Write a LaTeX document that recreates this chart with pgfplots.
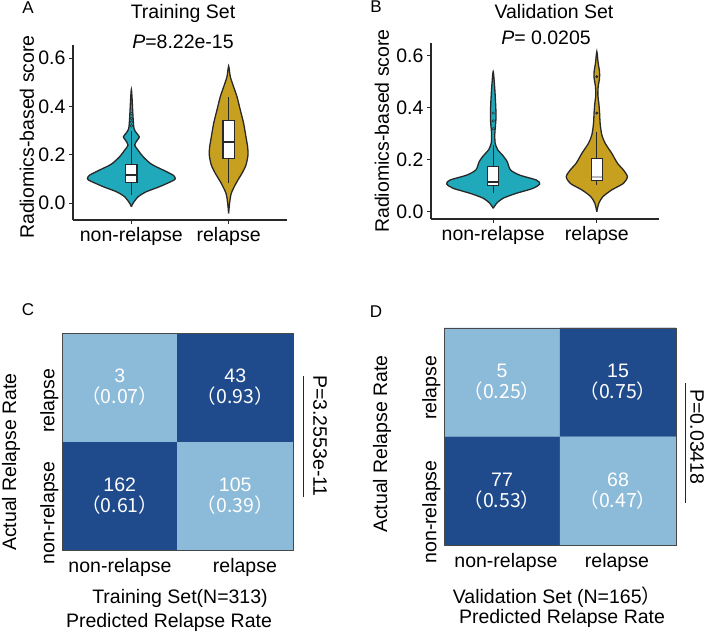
\documentclass[border=0pt]{standalone}
\usepackage{fontspec}
\setmainfont{Liberation Sans}
\newfontfamily\cjk{Noto Sans CJK SC}
\usepackage{pgfplots}
\pgfplotsset{compat=1.18}

\definecolor{vteal}{RGB}{32,169,186}
\definecolor{vgold}{RGB}{200,160,32}
\definecolor{ink}{RGB}{40,40,40}
\newcommand{\lab}{\fontsize{19.5}{21}\selectfont}
\newcommand{\panelfont}{\fontsize{17}{19}\selectfont}

\tikzset{cell/.style={text=white, align=center, font=\lab, inner sep=0pt}}
\pgfplotsset{
  violin/.style={
    scale only axis, clip=false,
    axis x line*=bottom, axis y line*=left,
    axis line style={-, ink, line width=1.6pt},
    xmin=0.4, xmax=2.6,
    xtick={1,2}, xticklabels={non-relapse,relapse},
    ytick={0,0.2,0.4,0.6}, yticklabels={0.0,0.2,0.4,0.6},
    tick align=outside, major tick length=4pt,
    tick style={ink, line width=1pt},
    tick label style={font=\lab},
    /pgf/number format/assume math mode=true,
  },
  vshape/.style={draw=ink, line width=1.3pt, smooth, tension=0.45},
  whisk/.style={ink, line width=1.2pt},
  box/.style={draw=ink, fill=white, line width=1.2pt},
  med/.style={ink, line width=2.2pt},
  cmat/.style={
    scale only axis, enlargelimits=false, axis on top,
    xmin=0, xmax=2, ymin=0, ymax=2,
    axis line style={ink!85, line width=0.8pt},
    major tick length=0pt,
    tick label style={font=\lab},
    xticklabel style={yshift=-5pt},
    yticklabel style={rotate=90, anchor=south, xshift=-5pt},
    colormap={cmblue}{rgb255=(140,186,217) rgb255=(31,75,140)},
    point meta min=0, point meta max=1,
  },
}

\begin{document}
\begin{tikzpicture}[x=1pt, y=1pt]
\path[use as bounding box] (0,0) rectangle (708,631);

% ---- A: training violin
\begin{axis}[violin, at={(73pt,411pt)}, width=214pt, height=175pt, ymin=-0.070, ymax=0.654]
\addplot[vshape, fill=vteal] coordinates {
 (1,-0.015)(1.017,-0.001)(1.069,0.026)(1.154,0.047)(1.291,0.068)(1.439,0.095)(1.449,0.105)(1.428,0.116)(1.325,0.137)(1.206,0.161)(1.120,0.192)(1.069,0.219)(1.034,0.240)(1.062,0.261)(1.082,0.274)(1.051,0.291)(1.027,0.309)(1.017,0.357)(1,0.470)
 (0.983,0.357)(0.973,0.309)(0.949,0.291)(0.918,0.274)(0.938,0.261)(0.966,0.240)(0.931,0.219)(0.880,0.192)(0.794,0.161)(0.675,0.137)(0.572,0.116)(0.551,0.105)(0.561,0.095)(0.709,0.068)(0.846,0.047)(0.931,0.026)(0.983,-0.001)(1,-0.015)};
\addplot[vshape, fill=vgold] coordinates {
 (2,-0.043)(2.010,0.0)(2.027,0.040)(2.075,0.081)(2.137,0.123)(2.178,0.157)(2.199,0.199)(2.195,0.233)(2.178,0.274)(2.154,0.330)(2.120,0.385)(2.086,0.440)(2.051,0.481)(2.017,0.523)(2,0.567)
 (1.983,0.523)(1.949,0.481)(1.914,0.440)(1.880,0.385)(1.846,0.330)(1.822,0.274)(1.805,0.233)(1.801,0.199)(1.822,0.157)(1.863,0.123)(1.925,0.081)(1.973,0.040)(1.990,0.0)(2,-0.043)};
% box plots: whiskers, boxes (quartiles), medians
\addplot[whisk] coordinates {(1,0.033)(1,0.30)};
\addplot[box] coordinates {(0.943,0.084)(1.057,0.084)(1.057,0.160)(0.943,0.160)} -- cycle;
\addplot[med] coordinates {(0.943,0.116)(1.057,0.116)};
\addplot[whisk] coordinates {(2,0.081)(2,0.44)};
\addplot[box] coordinates {(1.943,0.185)(2.057,0.185)(2.057,0.343)(1.943,0.343)} -- cycle;
\addplot[med] coordinates {(1.943,0.254)(2.057,0.254)};
\addplot[only marks, mark=*, mark size=1.4pt, mark options={fill=vteal, draw=ink, line width=0.5pt}] coordinates {(1,0.32)(1,0.335)(1,0.35)(1,0.37)};
\end{axis}

% ---- B: validation violin
\begin{axis}[violin, at={(431pt,412pt)}, width=228pt, height=176pt, ymin=-0.028, ymax=0.650]
\addplot[vshape, fill=vteal] coordinates {
 (1,0.013)(1.032,0.032)(1.096,0.052)(1.224,0.071)(1.385,0.090)(1.449,0.107)(1.417,0.122)(1.256,0.141)(1.167,0.161)(1.135,0.193)(1.090,0.218)(1.045,0.238)(1.019,0.264)(1.016,0.302)(1.026,0.353)(1.026,0.392)(1.016,0.469)(1,0.540)
 (0.984,0.469)(0.974,0.392)(0.974,0.353)(0.984,0.302)(0.981,0.264)(0.955,0.238)(0.910,0.218)(0.865,0.193)(0.833,0.161)(0.744,0.141)(0.583,0.122)(0.551,0.107)(0.615,0.090)(0.776,0.071)(0.904,0.052)(0.968,0.032)(1,0.013)};
\addplot[vshape, fill=vgold] coordinates {
 (2,0.0)(2.019,0.032)(2.058,0.058)(2.144,0.084)(2.256,0.109)(2.295,0.135)(2.256,0.161)(2.199,0.187)(2.144,0.225)(2.080,0.264)(2.048,0.296)(2.032,0.340)(2.026,0.385)(2.019,0.418)(2.010,0.450)(2.013,0.482)(2.026,0.514)(2.026,0.540)(2.013,0.572)(2,0.617)
 (1.987,0.572)(1.974,0.540)(1.974,0.514)(1.987,0.482)(1.990,0.450)(1.981,0.418)(1.974,0.385)(1.968,0.340)(1.952,0.296)(1.920,0.264)(1.856,0.225)(1.801,0.187)(1.744,0.161)(1.705,0.135)(1.744,0.109)(1.856,0.084)(1.942,0.058)(1.981,0.032)(2,0.0)};
\addplot[whisk] coordinates {(1,0.073)(1,0.256)};
\addplot[box] coordinates {(0.948,0.102)(1.052,0.102)(1.052,0.175)(0.948,0.175)} -- cycle;
\addplot[med, line width=1.4pt] coordinates {(0.948,0.115)(1.052,0.115)};
\addplot[whisk] coordinates {(2,0.102)(2,0.306)};
\addplot[box] coordinates {(1.947,0.121)(2.053,0.121)(2.053,0.205)(1.947,0.205)} -- cycle;
\addplot[med, line width=1.4pt, gray!55] coordinates {(1.950,0.134)(2.050,0.134)};
\addplot[only marks, mark=*, mark size=1.3pt, mark options={fill=vteal, draw=ink, line width=0.4pt}] coordinates {(1,0.32)(1,0.35)(1,0.38)};
\addplot[only marks, mark=*, mark size=1.3pt, mark options={fill=ink, draw=ink}] coordinates {(2,0.38)(2,0.52)};
\end{axis}

% ---- C: training confusion matrix
\begin{axis}[cmat, at={(62pt,81pt)}, width=231pt, height=217pt,
  xtick={0.502,1.584}, xticklabels={non-relapse,relapse},
  ytick={0.387,1.421}, yticklabels={non-relapse,relapse}]
\addplot[matrix plot*, mesh/cols=2, mesh/rows=2, point meta=explicit]
  table[meta=c, row sep=\\] {x y c\\ 0.5 0.5 1\\ 1.5 0.5 0\\ 0.5 1.5 0\\ 1.5 1.5 1\\};
\node[cell] at (axis cs:0.5,1.5) {3\\\cjk{（}0.07\cjk{）}};
\node[cell] at (axis cs:1.5,1.5) {43\\\cjk{（}0.93\cjk{）}};
\node[cell] at (axis cs:0.5,0.5) {162\\\cjk{（}0.61\cjk{）}};
\node[cell] at (axis cs:1.5,0.5) {105\\\cjk{（}0.39\cjk{）}};
\end{axis}

% ---- D: validation confusion matrix
\begin{axis}[cmat, at={(444pt,86pt)}, width=232pt, height=217pt,
  xtick={0.534,1.491}, xticklabels={non-relapse,relapse},
  ytick={0.350,1.493}, yticklabels={non-relapse,relapse}]
\addplot[matrix plot*, mesh/cols=2, mesh/rows=2, point meta=explicit]
  table[meta=c, row sep=\\] {x y c\\ 0.5 0.5 1\\ 1.5 0.5 0\\ 0.5 1.5 0\\ 1.5 1.5 1\\};
\node[cell] at (axis cs:0.5,1.5) {5\\\cjk{（}0.25\cjk{）}};
\node[cell] at (axis cs:1.5,1.5) {15\\\cjk{（}0.75\cjk{）}};
\node[cell] at (axis cs:0.5,0.5) {77\\\cjk{（}0.53\cjk{）}};
\node[cell] at (axis cs:1.5,0.5) {68\\\cjk{（}0.47\cjk{）}};
\end{axis}

% ---- labels and annotations
\begin{scope}[every node/.style={inner sep=0pt, font=\lab}]
\node[font=\panelfont] at (28,623) {A};
\node[font=\panelfont] at (376,624) {B};
\node[font=\panelfont] at (28,321) {C};
\node[font=\panelfont] at (376,319) {D};
\node at (183,618) {Training Set};
\node at (183,589) {\textit{P}=8.22e-15};
\node at (554,619) {Validation Set};
\node at (546,593) {\textit{P}= 0.0205};
\node[rotate=90] at (27,494) {Radiomics-based score};
\node[rotate=90] at (382,500) {Radiomics-based score};
\node[rotate=90] at (11,169) {Actual Relapse Rate};
\node[rotate=90] at (382,187) {Actual Relapse Rate};
\node at (180,33) {Training Set(N=313)};
\node at (169,9) {Predicted Relapse Rate};
\node at (557,34) {Validation Set (N=165\cjk{）}};
\node at (562,13) {Predicted Relapse Rate};
\draw[ink, line width=1pt] (303,255) -- (303,134);
\node[rotate=-90] at (320,195) {P=3.2553e-11};
\draw[ink, line width=1pt] (685,248) -- (685,128);
\node[rotate=-90] at (697,194) {P=0.03418};
\end{scope}
\end{tikzpicture}
\end{document}
